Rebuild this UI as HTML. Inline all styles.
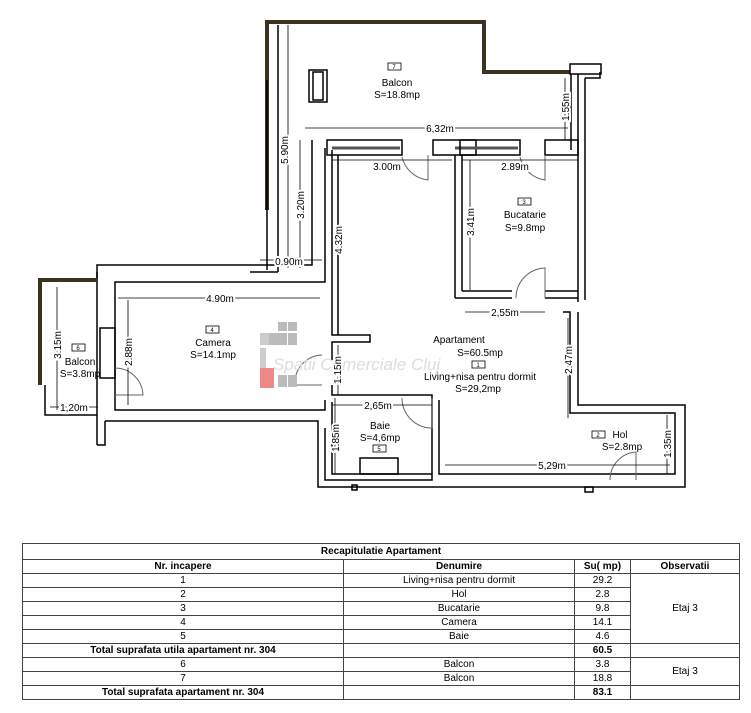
<!DOCTYPE html>
<html><head><meta charset="utf-8"><style>
body{margin:0;background:#fff;width:751px;height:713px;overflow:hidden;font-family:"Liberation Sans",sans-serif}
svg{position:absolute;left:0;top:0}
table{position:absolute;left:22px;top:543px;width:718px;border-collapse:collapse;font-size:10px;font-family:"Liberation Sans",sans-serif}
td{border:1px solid #444;text-align:center;height:13px;padding:0;line-height:12px}
tr.h td{font-weight:bold}
</style></head><body>
<svg width="751" height="713" viewBox="0 0 751 713" font-family="Liberation Sans, sans-serif" font-size="10">
<g fill="none" stroke="#000" stroke-width="1.5">
<!-- balcony 7 -->
<polyline points="267,210 267,22 484,22 484,72 572,72" stroke="#3b3222" stroke-width="4"/>
<line x1="267" y1="80" x2="267" y2="270"/>
<line x1="278" y1="25" x2="278" y2="272"/>
<rect x="309" y="70" width="18" height="32"/>
<rect x="313" y="72" width="10" height="28"/>
<!-- right column -->
<rect x="570" y="64" width="31" height="10" fill="#fff"/>
<polyline points="571,74 571,150"/>
<polyline points="578,74 578,302"/>
<polyline points="585,78 600,78 600,72"/>
<polyline points="585,78 585,300"/>
<!-- 0.90 wall -->
<polyline points="250,272 278,272"/>
<polyline points="312,140 312,265 97,265 97,445"/>
<polyline points="325,148 325,282 115,282 115,410 325,410 325,400"/>
<polyline points="105,421 318,421 318,487 685,487 685,405 578,405 578,312"/>
<polyline points="325,428 325,480 432,480 432,400"/>
<polyline points="105,421 105,445 97,445"/>
<polyline points="97,272 97,278"/>
<polyline points="332,150 332,335 370,335 370,342 332,342 332,360"/>
<polyline points="332,385 332,395 432,395 432,400"/>
<polyline points="332,402 332,474 432,474"/>
<polyline points="439,400 439,474 675,474 675,413 570,413 570,312 563,312"/>
<!-- top wall -->
<rect x="327" y="140" width="75" height="15"/>
<line x1="332" y1="148" x2="400" y2="148" stroke-width="3" stroke="#555"/>
<rect x="433" y="140" width="43" height="15"/>
<line x1="455" y1="148" x2="518" y2="148" stroke-width="3" stroke="#555"/>
<rect x="460" y="140" width="60" height="15"/>
<rect x="545" y="140" width="33" height="15"/>
<line x1="455" y1="155" x2="455" y2="298"/>
<line x1="462" y1="155" x2="462" y2="291"/>
<line x1="462" y1="291" x2="512" y2="291"/>
<line x1="455" y1="298" x2="512" y2="298"/>
<line x1="545" y1="298" x2="578" y2="298"/>
<line x1="545" y1="291" x2="578" y2="291"/>
<line x1="338" y1="155" x2="338" y2="335"/>
<!-- balcony 6 -->
<polyline points="40,385 40,280 97,280" stroke="#3b3222" stroke-width="4"/>
<polyline points="45,385 45,415 97,415"/>
<rect x="100" y="328" width="15" height="50"/>
<!-- doors -->
<path d="M402,157 A30,30 0 0 0 428,180 L428,155" stroke="#666" stroke-width="1"/>
<path d="M520,157 A30,30 0 0 0 545,180 L545,155" stroke="#666" stroke-width="1"/>
<path d="M516,298 A30,30 0 0 1 545,268 L545,298" stroke="#666" stroke-width="1"/>
<path d="M115,368 A28,28 0 0 1 143,395 L115,395" stroke="#666" stroke-width="1"/>
<path d="M322,355 A28,28 0 0 0 295,385 L322,385" stroke="#666" stroke-width="1"/>
<path d="M402,398 A30,30 0 0 0 432,428 L432,398" stroke="#666" stroke-width="1"/>
<path d="M610,480 A28,28 0 0 1 636,452 L636,480" stroke="#666" stroke-width="1"/>
<rect x="360" y="458" width="38" height="16"/>
<rect x="352" y="485" width="5" height="5"/><rect x="585" y="487" width="8" height="5"/>
</g>
<!-- dimension lines -->
<g stroke="#000" stroke-width="0.8" fill="none">
<line x1="305" y1="128" x2="568" y2="128"/><line x1="288" y1="25" x2="288" y2="268"/>
<line x1="300" y1="140" x2="300" y2="268"/><line x1="332" y1="160" x2="452" y2="160"/>
<line x1="462" y1="160" x2="578" y2="160"/><line x1="565" y1="78" x2="565" y2="140"/>
<line x1="338" y1="160" x2="338" y2="290"/><line x1="470" y1="160" x2="470" y2="290"/>
<line x1="465" y1="312" x2="545" y2="312"/><line x1="568" y1="318" x2="568" y2="418"/>
<line x1="118" y1="298" x2="320" y2="298"/><line x1="128" y1="300" x2="128" y2="405"/>
<line x1="57" y1="287" x2="57" y2="410"/><line x1="50" y1="407" x2="98" y2="407"/>
<line x1="338" y1="345" x2="338" y2="395"/><line x1="332" y1="405" x2="432" y2="405"/>
<line x1="335" y1="398" x2="335" y2="474"/><line x1="445" y1="465" x2="670" y2="465"/>
<line x1="667" y1="415" x2="667" y2="474"/><line x1="260" y1="260" x2="322" y2="260"/>
</g>
<!-- watermark -->
<g>
<rect x="278" y="322" width="9" height="9" fill="#bbb"/><rect x="288" y="322" width="9" height="9" fill="#bbb"/>
<rect x="260" y="333" width="9" height="12" fill="#ccc"/><rect x="269" y="333" width="9" height="12" fill="#bbb"/><rect x="278" y="333" width="9" height="12" fill="#bbb"/><rect x="288" y="333" width="9" height="12" fill="#bbb"/>
<rect x="260" y="348" width="6" height="20" fill="#ccc"/><rect x="260" y="368" width="14" height="20" fill="#e88"/>
<rect x="278" y="375" width="9" height="12" fill="#bbb"/><rect x="288" y="375" width="9" height="12" fill="#bbb"/>
<text x="273" y="370" font-size="17" fill="#ddd" font-style="italic">Spatii Comerciale Cluj</text>
</g>
<g fill="#000" text-anchor="middle">
<rect x="388" y="63" width="13" height="7" fill="none" stroke="#000" stroke-width="0.8"/><text x="394" y="69" font-size="6">7</text>
<text x="397" y="86">Balcon</text><text x="397" y="98">S=18.8mp</text>
<rect x="518" y="198" width="13" height="7" fill="none" stroke="#000" stroke-width="0.8"/><text x="524" y="204" font-size="6">3</text>
<text x="525" y="218">Bucatarie</text><text x="525" y="231">S=9.8mp</text>
<rect x="206" y="326" width="13" height="7" fill="none" stroke="#000" stroke-width="0.8"/><text x="212" y="332" font-size="6">4</text>
<text x="213" y="346">Camera</text><text x="213" y="358">S=14.1mp</text>
<rect x="72" y="344" width="13" height="7" fill="none" stroke="#000" stroke-width="0.8"/><text x="78" y="350" font-size="6">6</text>
<text x="80" y="365">Balcon</text><text x="80" y="377">S=3.8mp</text>
<text x="459" y="343">Apartament</text><text x="480" y="356">S=60.5mp</text>
<rect x="472" y="361" width="13" height="7" fill="none" stroke="#000" stroke-width="0.8"/><text x="478" y="367" font-size="6">1</text>
<text x="480" y="380">Living+nisa pentru dormit</text><text x="478" y="392">S=29,2mp</text>
<text x="380" y="429">Baie</text><text x="380" y="441">S=4,6mp</text>
<rect x="373" y="445" width="13" height="7" fill="none" stroke="#000" stroke-width="0.8"/><text x="379" y="451" font-size="6">5</text>
<rect x="592" y="431" width="13" height="7" fill="none" stroke="#000" stroke-width="0.8"/><text x="598" y="437" font-size="6">2</text>
<text x="620" y="438">Hol</text><text x="622" y="450">S=2.8mp</text>
</g>
<g fill="#000" font-size="10" text-anchor="middle">
<text x="440" y="132" style="paint-order:stroke" stroke="#fff" stroke-width="4">6,32m</text>
<text x="387" y="170" style="paint-order:stroke" stroke="#fff" stroke-width="4">3.00m</text>
<text x="515" y="170" style="paint-order:stroke" stroke="#fff" stroke-width="4">2.89m</text>
<text x="505" y="316" style="paint-order:stroke" stroke="#fff" stroke-width="4">2,55m</text>
<text x="220" y="302" style="paint-order:stroke" stroke="#fff" stroke-width="4">4.90m</text>
<text x="74" y="411" style="paint-order:stroke" stroke="#fff" stroke-width="4">1,20m</text>
<text x="378" y="409" style="paint-order:stroke" stroke="#fff" stroke-width="4">2,65m</text>
<text x="552" y="469" style="paint-order:stroke" stroke="#fff" stroke-width="4">5,29m</text>
<text x="289" y="265" style="paint-order:stroke" stroke="#fff" stroke-width="4">0.90m</text>
<text transform="translate(288,150) rotate(-90)" style="paint-order:stroke" stroke="#fff" stroke-width="4">5.90m</text>
<text transform="translate(304,205) rotate(-90)" style="paint-order:stroke" stroke="#fff" stroke-width="4">3.20m</text>
<text transform="translate(342,240) rotate(-90)" style="paint-order:stroke" stroke="#fff" stroke-width="4">4.32m</text>
<text transform="translate(474,222) rotate(-90)" style="paint-order:stroke" stroke="#fff" stroke-width="4">3.41m</text>
<text transform="translate(569,107) rotate(-90)" style="paint-order:stroke" stroke="#fff" stroke-width="4">1.55m</text>
<text transform="translate(572,360) rotate(-90)" style="paint-order:stroke" stroke="#fff" stroke-width="4">2.47m</text>
<text transform="translate(132,352) rotate(-90)" style="paint-order:stroke" stroke="#fff" stroke-width="4">2.88m</text>
<text transform="translate(61,345) rotate(-90)" style="paint-order:stroke" stroke="#fff" stroke-width="4">3.15m</text>
<text transform="translate(341,370) rotate(-90)" style="paint-order:stroke" stroke="#fff" stroke-width="4">1.15m</text>
<text transform="translate(339,438) rotate(-90)" style="paint-order:stroke" stroke="#fff" stroke-width="4">1.85m</text>
<text transform="translate(671,444) rotate(-90)" style="paint-order:stroke" stroke="#fff" stroke-width="4">1.35m</text>
</g>
</svg>
<table>
<tr class="h"><td colspan="4" style="height:15px">Recapitulatie Apartament</td></tr>
<tr class="h"><td style="width:320px">Nr. incapere</td><td style="width:230px">Denumire</td><td style="width:55px">Su( mp)</td><td>Observatii</td></tr>
<tr><td>1</td><td>Living+nisa pentru dormit</td><td>29.2</td><td rowspan="5">Etaj 3</td></tr>
<tr><td>2</td><td>Hol</td><td>2.8</td></tr>
<tr><td>3</td><td>Bucatarie</td><td>9.8</td></tr>
<tr><td>4</td><td>Camera</td><td>14.1</td></tr>
<tr><td>5</td><td>Baie</td><td>4.6</td></tr>
<tr class="h"><td>Total suprafata utila apartament nr. 304</td><td></td><td>60.5</td><td></td></tr>
<tr><td>6</td><td>Balcon</td><td>3.8</td><td rowspan="2">Etaj 3</td></tr>
<tr><td>7</td><td>Balcon</td><td>18.8</td></tr>
<tr class="h"><td>Total suprafata apartament nr. 304</td><td></td><td>83.1</td><td></td></tr>
</table>
</body></html>
